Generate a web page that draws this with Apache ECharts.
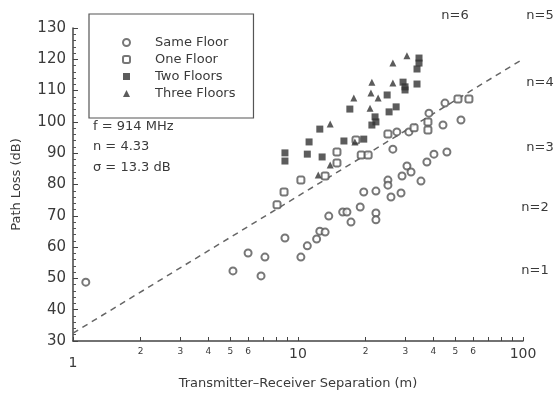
<!DOCTYPE html>
<html>
<head>
<meta charset="utf-8">
<script src="https://cdn.jsdelivr.net/npm/echarts@6/dist/echarts.min.js"></script>
<style>
  html, body { margin: 0; padding: 0; background: #fff; }
  #chart { width: 558px; height: 398px; }
</style>
</head>
<body>
<div id="chart"></div>
<script>
// Same floor (open circles)
const sameX = [1.14, 5.14, 6.0, 7.13, 6.85, 8.75, 10.3, 11.0, 12.1, 12.5, 13.2, 13.7, 15.8, 16.5, 17.2, 18.9,
  19.6, 22.2, 22.2, 22.2, 25.1, 25.1, 25.9, 28.7, 29.0, 30.5, 31.8, 35.2, 37.4, 40.2, 45.9, 26.4, 27.5, 31.1,
  38.2, 44.1, 45.0, 53.0];
const sameY = [48.8, 52.4, 58.1, 56.8, 50.8, 62.9, 56.8, 60.4, 62.6, 65.1, 64.8, 69.9, 71.2, 71.2, 68.0, 72.8,
  77.6, 77.9, 70.9, 68.7, 81.4, 79.8, 76.0, 77.3, 82.7, 85.9, 84.0, 81.1, 87.2, 89.7, 90.4, 91.3, 96.8, 96.8,
  102.8, 99.0, 106.0, 100.6];

// One floor (open squares)
const oneX = [8.07, 8.67, 10.3, 13.2, 14.9, 14.9, 19.1, 20.5, 18.1, 25.1, 32.8, 37.8, 37.8, 51.4, 57.5];
const oneY = [73.5, 77.6, 81.4, 82.7, 86.9, 90.4, 89.4, 89.4, 94.2, 96.1, 98.1, 100.0, 97.4, 107.3, 107.3];

// Two floors (filled squares)
const twoX = [8.75, 8.75, 11.0, 12.8, 11.2, 12.5, 16.0, 19.6, 17.0, 21.3, 22.0, 22.2, 24.9, 25.4, 27.3,
  29.3, 29.9, 29.9, 33.8, 34.5, 34.5, 33.8];
const twoY = [90.1, 87.5, 89.7, 88.8, 93.6, 97.7, 93.9, 94.5, 104.1, 99.0, 101.6, 100.0, 108.6, 103.2, 104.8,
  112.7, 111.2, 110.2, 112.1, 120.4, 118.8, 116.9];

// Three floors (filled triangles)
const threeX = [12.3, 13.9, 13.9, 17.9, 17.7, 20.9, 21.1, 22.7, 21.3, 26.4, 26.4, 30.5];
const threeY = [83.0, 86.2, 99.3, 93.6, 107.6, 104.4, 109.2, 107.6, 112.7, 112.4, 118.8, 121.1];

// fitted line, n = 4.33
const fitX = [1, 97];
const fitY = [32.5, 119.5];

const xTicks = [1, 2, 3, 4, 5, 6, 7, 8, 9, 10, 20, 30, 40, 50, 60, 70, 80, 90, 100];
const xTickLabels = [1, 2, 3, 4, 5, 6, 10, 20, 30, 40, 50, 60, 100];

const slopeLabels = ["n=6", "n=5", "n=4", "n=3", "n=2", "n=1"];

const zip = (xs, ys) => xs.map((x, i) => [x, ys[i]]);

const ink = "#3a3a3a";
const font = "DejaVu Sans";

const chart = echarts.init(document.getElementById("chart"));

const slopePos = [[455, 16], [540, 16], [540, 83], [540, 148], [535, 208], [535, 271]];

chart.setOption({
  animation: false,
  textStyle: { fontFamily: font, color: ink },
  grid: { left: 73, right: 35, top: 28, bottom: 57 },
  legend: {
    orient: "vertical",
    left: 89,
    top: 14,
    padding: [21, 18, 17, 33],
    itemWidth: 7,
    itemHeight: 7,
    itemGap: 2,
    borderColor: "#555",
    borderWidth: 1.2,
    borderRadius: 0,
    textStyle: { fontFamily: font, fontSize: 13, color: ink, lineHeight: 15, padding: [0, 0, 0, 20] },
    data: ["Same Floor", "One Floor", "Two Floors", "Three Floors"]
  },
  xAxis: {
    type: "log",
    logBase: 10,
    min: 1,
    max: 100,
    name: "Transmitter\u2013Receiver Separation (m)",
    nameLocation: "middle",
    nameGap: 36,
    nameTextStyle: { fontSize: 13, color: ink },
    axisLine: { lineStyle: { color: "#444", width: 1.5 } },
    axisTick: { inside: true, length: 4, lineStyle: { color: "#444" }, customValues: xTicks },
    splitLine: { show: false },
    axisLabel: {
      customValues: xTickLabels,
      margin: 6,
      formatter: (v) => {
        if (v === 1) return "{one|1}";
        if (v === 10 || v === 100) return "{big|" + v + "}";
        return "{small|" + (v >= 10 ? v / 10 : v) + "}";
      },
      rich: {
        big: { fontSize: 14, color: ink, fontFamily: font },
        one: { fontSize: 14, color: ink, fontFamily: font, padding: [9, 0, 0, 0] },
        small: { fontSize: 9, color: ink, fontFamily: font }
      }
    }
  },
  yAxis: {
    type: "value",
    min: 30,
    max: 130,
    interval: 10,
    name: "Path Loss (dB)",
    nameLocation: "middle",
    nameGap: 50,
    nameTextStyle: { fontSize: 13, color: ink },
    axisLine: { show: true, lineStyle: { color: "#444", width: 1.5 } },
    axisTick: { show: true, inside: true, length: 5, lineStyle: { color: "#444" } },
    minorTick: { show: true, splitNumber: 5, length: 3, lineStyle: { color: "#555" } },
    splitLine: { show: false },
    axisLabel: { fontSize: 15, color: ink, margin: 7 }
  },
  graphic: [
    { type: "text", left: 93, top: 120, style: { text: "f = 914 MHz", font: "13px " + font, fill: ink } },
    { type: "text", left: 93, top: 140, style: { text: "n = 4.33", font: "13px " + font, fill: ink } },
    { type: "text", left: 93, top: 161, style: { text: "\u03c3 = 13.3 dB", font: "13px " + font, fill: ink } }
  ].concat(slopeLabels.map((t, i) => ({
    type: "text",
    x: slopePos[i][0],
    y: slopePos[i][1],
    style: { text: t, font: "13px " + font, fill: ink, align: "center", verticalAlign: "middle" }
  }))),
  series: [
    {
      type: "line",
      data: zip(fitX, fitY),
      symbol: "none",
      silent: true,
      lineStyle: { color: "#666", width: 1.5, type: [6, 5] },
      z: 1
    },
    {
      name: "Same Floor",
      type: "scatter",
      data: zip(sameX, sameY),
      symbol: "emptyCircle",
      symbolSize: 7,
      itemStyle: { color: "#555", borderWidth: 1.2 }
    },
    {
      name: "One Floor",
      type: "scatter",
      data: zip(oneX, oneY),
      symbol: "emptyRoundRect",
      symbolSize: 7,
      itemStyle: { color: "#555", borderWidth: 1.2 }
    },
    {
      name: "Two Floors",
      type: "scatter",
      data: zip(twoX, twoY),
      symbol: "rect",
      symbolSize: 7,
      itemStyle: { color: "#333" }
    },
    {
      name: "Three Floors",
      type: "scatter",
      data: zip(threeX, threeY),
      symbol: "triangle",
      symbolSize: 7,
      itemStyle: { color: "#333" }
    }
  ]
});
</script>
</body>
</html>
